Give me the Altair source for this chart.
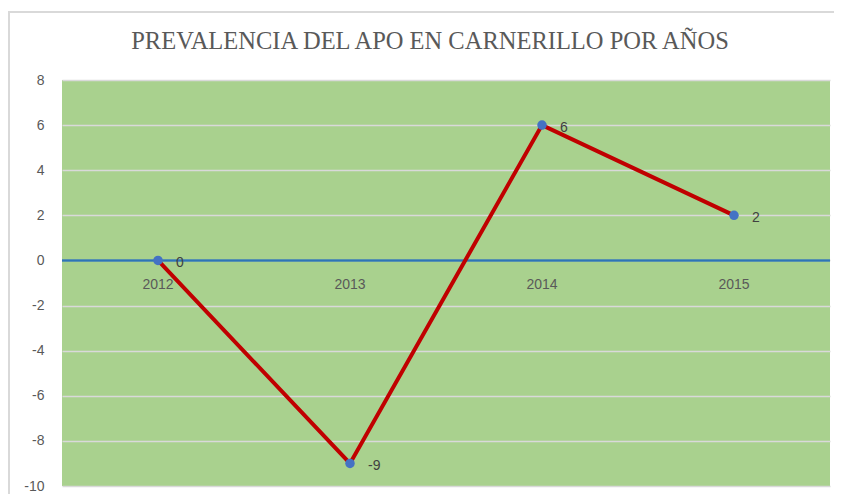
import altair as alt
import pandas as pd

years = ["2012", "2013", "2014", "2015"]
values = [0, -9, 6, 2]
y_ticks = [-10, -8, -6, -4, -2, 0, 2, 4, 6, 8]
title_text = "PREVALENCIA DEL APO EN CARNERILLO POR AÑOS"

df = pd.DataFrame({"year": years, "value": values,
                   "label": [str(v) for v in values]})

xscale = alt.Scale(type="point", padding=0.5)
x = alt.X("year:N", scale=xscale, axis=None, sort=years)
yscale = alt.Scale(domain=[-10, 8], nice=False, zero=False)
y = alt.Y("value:Q", scale=yscale,
          axis=alt.Axis(values=y_ticks, title=None, domain=False, ticks=False,
                        labelPadding=18, labelColor="#595959", labelFontSize=14,
                        labelFont="Liberation Sans", gridColor="#D9D9D9",
                        labelExpr="'' + datum.value",
                        gridWidth=1.5, grid=True))

base = alt.Chart(df)

border = alt.Chart(pd.DataFrame({"a": [0]})).mark_rect(
    fillOpacity=0, stroke="#D9D9D9", strokeWidth=2, clip=False).encode(
    x=alt.value(-53), x2=alt.value(800), y=alt.value(-68), y2=alt.value(440)
)

title = alt.Chart(pd.DataFrame({"t": [title_text]})).mark_text(
    font="Liberation Serif", fontSize=24.5, color="#595959", align="center",
    baseline="alphabetic").encode(
    x=alt.value(368), y=alt.value(-31), text="t:N")

grid = base.mark_point(opacity=0).encode(x=x, y=y)

zero = base.mark_rule(color="#2E75B6", strokeWidth=1.5).encode(y=alt.Y(datum=0, scale=yscale))

line = base.mark_line(color="#C00000", strokeWidth=4).encode(x=x, y=alt.Y("value:Q", scale=yscale))

pts = base.mark_circle(color="#4472C4", size=90, opacity=1).encode(x=x, y=alt.Y("value:Q", scale=yscale))

labels = base.mark_text(align="left", dx=18, dy=3, fontSize=14, color="#404040",
                        font="Liberation Sans").encode(
    x=x, y=alt.Y("value:Q", scale=yscale), text="label:N")

xlabels = base.mark_text(align="center", dy=25, fontSize=14, color="#595959",
                         font="Liberation Sans").encode(
    x=x, y=alt.Y(datum=0, scale=yscale), text="year:N")

chart = alt.layer(grid, border, title, zero, line, pts, labels, xlabels).properties(
    width=768, height=406,
    padding={"left": 54, "top": 72, "right": 4, "bottom": 8},
    autosize=alt.AutoSizeParams(type="none"),
).configure_view(fill="#A9D18E", stroke=None)

chart.save("out.html", embed_options={"renderer": "svg", "actions": False})
